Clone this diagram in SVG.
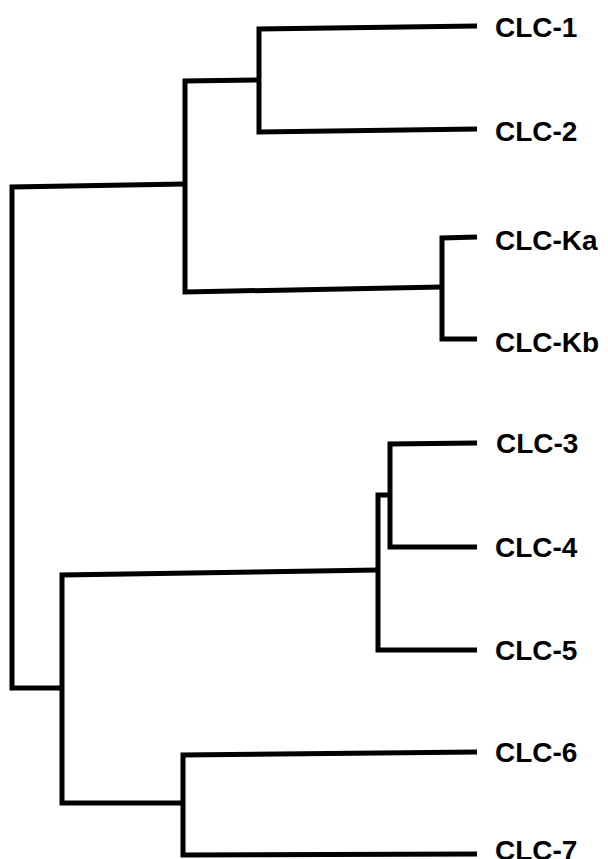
<svg xmlns="http://www.w3.org/2000/svg" width="608" height="859" viewBox="0 0 608 859">
  <style>
    .branch { fill: none; stroke: #000; stroke-width: 5; stroke-linejoin: miter; stroke-linecap: butt; }
    .label { font-family: "Liberation Sans", Arial, sans-serif; font-weight: bold; font-size: 28px; fill: #000; }
  </style>
  <rect width="608" height="859" fill="#fff"/>

  <!-- tree branches -->
  <g id="connectors">
    <path class="branch" d="M477 26 L259 29 L259 132 L477 129"/>
    <path class="branch" d="M477 237 L442 238 L442 339 L477 339"/>
    <path class="branch" d="M259 80 L185 81 L185 292 L442 287"/>
    <path class="branch" d="M477 443 L390 444 L390 547 L477 547"/>
    <path class="branch" d="M390 495 L378 495 L378 650 L477 650"/>
    <path class="branch" d="M477 752 L183 755 L183 855 L477 854"/>
    <path class="branch" d="M378 570 L62 575 L62 803 L183 803"/>
    <path class="branch" d="M185 184 L12 187 L12 688 L62 688"/>
  </g>

  <!-- leaf labels -->
  <g id="clc1"><text class="label" x="495" y="37">CLC-1</text></g>
  <g id="clc2"><text class="label" x="495" y="141">CLC-2</text></g>
  <g id="clcKa"><text class="label" x="495" y="250">CLC-Ka</text></g>
  <g id="clcKb"><text class="label" x="495" y="352">CLC-Kb</text></g>
  <g id="clc3"><text class="label" x="496" y="453">CLC-3</text></g>
  <g id="clc4"><text class="label" x="495" y="557">CLC-4</text></g>
  <g id="clc5"><text class="label" x="495" y="660">CLC-5</text></g>
  <g id="clc6"><text class="label" x="495" y="762">CLC-6</text></g>
  <g id="clc7"><text class="label" x="495" y="860">CLC-7</text></g>
</svg>
